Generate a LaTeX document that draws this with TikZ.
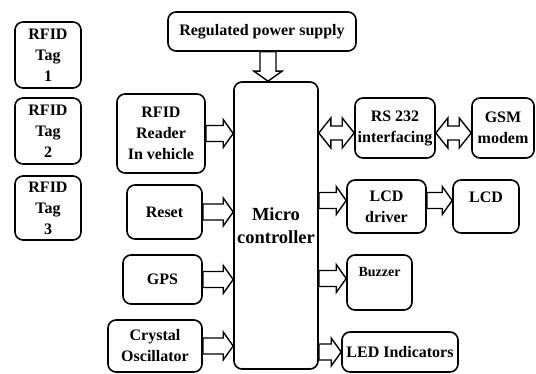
\documentclass[tikz,border=0pt]{standalone}
\usepackage{fontspec}
\setmainfont{Liberation Serif}
\usetikzlibrary{calc}

\newcommand{\shaftw}{8pt}
\newcommand{\headw}{14pt}
\newcommand{\headl}{10pt}

\begin{document}
\begin{tikzpicture}[x=1pt, y=-1pt,
  every node/.style={draw, rounded corners=8pt, line width=1.6pt, align=center, inner sep=0pt,
    font=\fontsize{16}{21}\selectfont\bfseries},
  hollow/.style={line width=1.4pt, to path={
    ($(\tikztostart)!\shaftw!90:(\tikztotarget)$)
    -- ($(\tikztotarget)!\headl!(\tikztostart)!\shaftw!-90:(\tikztostart)$)
    -- ($(\tikztotarget)!\headl!(\tikztostart)!\headw!-90:(\tikztostart)$)
    -- (\tikztotarget)
    -- ($(\tikztotarget)!\headl!(\tikztostart)!\headw!90:(\tikztostart)$)
    -- ($(\tikztotarget)!\headl!(\tikztostart)!\shaftw!90:(\tikztostart)$)
    -- ($(\tikztostart)!\shaftw!-90:(\tikztotarget)$) -- cycle}},
  hollowboth/.style={line width=1.4pt, to path={
    -- ($(\tikztostart)!12pt!(\tikztotarget)!15pt!90:(\tikztotarget)$)
    -- ($(\tikztostart)!12pt!(\tikztotarget)!7pt!90:(\tikztotarget)$)
    -- ($(\tikztotarget)!12pt!(\tikztostart)!7pt!-90:(\tikztostart)$)
    -- ($(\tikztotarget)!12pt!(\tikztostart)!15pt!-90:(\tikztostart)$)
    -- (\tikztotarget)
    -- ($(\tikztotarget)!12pt!(\tikztostart)!15pt!90:(\tikztostart)$)
    -- ($(\tikztotarget)!12pt!(\tikztostart)!7pt!90:(\tikztostart)$)
    -- ($(\tikztostart)!12pt!(\tikztotarget)!7pt!-90:(\tikztotarget)$)
    -- ($(\tikztostart)!12pt!(\tikztotarget)!15pt!-90:(\tikztotarget)$) -- cycle}}
]
  \useasboundingbox (0,0) rectangle (536,374);

  % tags
  \node[minimum width=66pt, minimum height=66pt] (tag1) at (48,55)  {RFID\\Tag\\1};
  \node[minimum width=66pt, minimum height=66pt] (tag2) at (48,131) {RFID\\Tag\\2};
  \node[minimum width=66pt, minimum height=64pt] (tag3) at (48,208) {RFID\\Tag\\3};

  % inputs
  \node[minimum width=188pt, minimum height=39pt] (power) at (262,31.5) {Regulated power supply};
  \node[minimum width=84pt, minimum height=287pt, font=\fontsize{18.5}{23}\selectfont\bfseries] (mc) at (276,225.5) {Micro\\controller};
  \node[minimum width=88pt, minimum height=79pt] (reader) at (161,133.5) {RFID\\Reader\\In vehicle};
  \node[minimum width=75pt, minimum height=54pt] (reset) at (164.5,212) {Reset};
  \node[minimum width=79pt, minimum height=49pt] (gps) at (162.5,279.5) {GPS};
  \node[minimum width=94pt, minimum height=52pt] (crystal) at (155,346) {Crystal\\Oscillator};

  % outputs
  \node[minimum width=80pt, minimum height=60pt] (rs232) at (395,128) {RS 232\\interfacing};
  \node[minimum width=62pt, minimum height=60pt] (gsm) at (503,128) {GSM\\modem};
  \node[minimum width=79pt, minimum height=53pt] (lcddrv) at (386.5,206.5) {LCD\\driver};
  \node[minimum width=66pt, text height=23pt, text depth=30pt] (lcd) at (486,206.5) {LCD};
  \node[minimum width=65pt, text height=22pt, text depth=33pt, font=\fontsize{14}{17}\selectfont\bfseries] (buzzer) at (379.5,282.5) {Buzzer};
  \node[minimum width=116pt, minimum height=40pt] (led) at (400,352) {LED Indicators};

  % arrows
  \draw[hollow] ([xshift=6pt]power.south) to ([xshift=6pt]power.south |- mc.north);
  \draw[hollow] (reader.east) to (reader.east -| mc.west);
  \draw[hollow] (reset.east) to (reset.east -| mc.west);
  \draw[hollow] (gps.east) to (gps.east -| mc.west);
  \draw[hollow] (crystal.east) to (crystal.east -| mc.west);
  \draw[hollowboth] ([yshift=-5pt]mc.east |- rs232.west) to ([yshift=-5pt]rs232.west);
  \draw[hollowboth] ([yshift=-5pt]rs232.east) to ([yshift=-5pt]gsm.west);
  \draw[hollow] ([yshift=6pt]mc.east |- lcddrv.west) to ([yshift=6pt]lcddrv.west);
  \draw[hollow] ([yshift=6pt]lcddrv.east) to ([yshift=6pt]lcd.west);
  \draw[hollow] ([yshift=4pt]mc.east |- buzzer.west) to ([yshift=4pt]buzzer.west);
  \draw[hollow] (mc.east |- led.west) to (led.west);
\end{tikzpicture}
\end{document}
